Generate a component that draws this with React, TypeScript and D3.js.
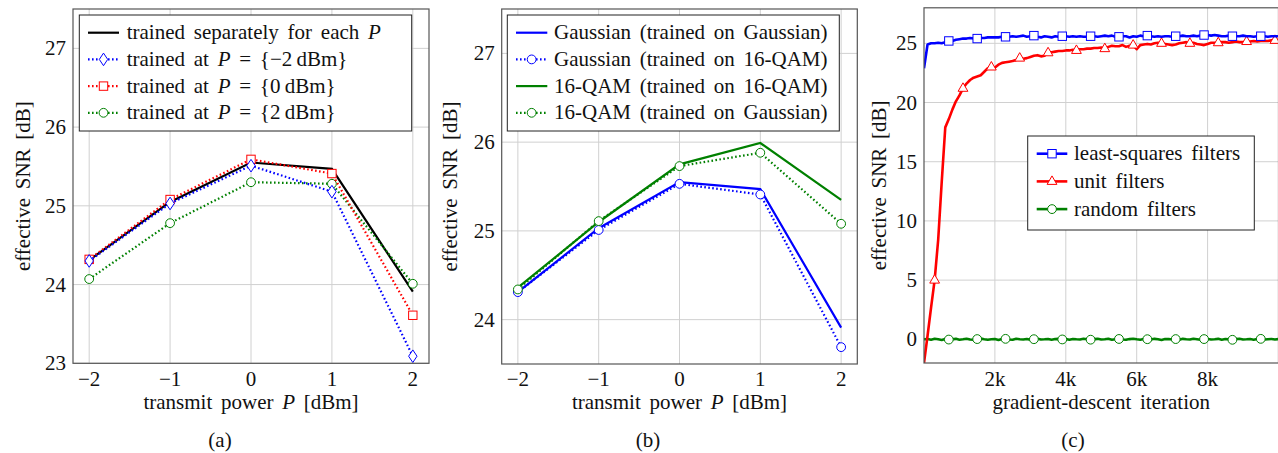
import React from 'react'
import * as d3 from 'd3'

// panel (a) and (b): transmit power sweep
const powers = [-2, -1, 0, 1, 2]
const snrSeparate = [24.31, 25.05, 25.55, 25.47, 23.91]
const snrAtMinus2 = [24.3, 25.03, 25.51, 25.18, 23.09]
const snrAt0 = [24.32, 25.08, 25.59, 25.41, 23.61]
const snrAt2 = [24.07, 24.78, 25.3, 25.28, 24.01]

const gaussOnGauss = [24.31, 25.03, 25.55, 25.47, 23.91]
const gaussOnQam = [24.31, 25.01, 25.53, 25.41, 23.69]
const qamOnQam = [24.36, 25.1, 25.75, 25.99, 25.35]
const qamOnGauss = [24.34, 25.11, 25.73, 25.88, 25.08]

// panel (c): one value every 100 iterations, 0 .. 10000
const lsFilters = [
  22.9, 24.9, 25.0, 25.0, 25.05, 25.0, 25.1, 25.2, 25.2, 25.3,
  25.35, 25.4, 25.4, 25.45, 25.4, 25.4, 25.45, 25.45, 25.5, 25.5,
  25.5, 25.5, 25.55, 25.55, 25.55, 25.6, 25.55, 25.6, 25.65, 25.55,
  25.6, 25.65, 25.55, 25.5, 25.6, 25.55, 25.5, 25.6, 25.55, 25.6,
  25.6, 25.55, 25.6, 25.55, 25.6, 25.55, 25.55, 25.6, 25.6, 25.55,
  25.6, 25.65, 25.6, 25.65, 25.55, 25.55, 25.6, 25.6, 25.5, 25.6,
  25.55, 25.65, 25.6, 25.65, 25.6, 25.55, 25.6, 25.55, 25.6, 25.6,
  25.55, 25.6, 25.6, 25.65, 25.6, 25.6, 25.65, 25.6, 25.65, 25.7,
  25.7, 25.65, 25.7, 25.65, 25.6, 25.6, 25.65, 25.6, 25.6, 25.6,
  25.65, 25.6, 25.6, 25.55, 25.6, 25.6, 25.6, 25.55, 25.6, 25.6,
  25.6,
]
const unitFilters = [
  -2, 0.3, 2.7, 5.0, 8.4, 13.3, 17.9, 18.6, 19.4, 20.1,
  20.6, 21.2, 21.6, 21.9, 22.1, 22.2, 22.3, 22.6, 22.9, 23.0,
  22.95, 23.2, 23.35, 23.4, 23.45, 23.5, 23.6, 23.75, 23.7, 23.75,
  23.85, 23.95, 24.0, 23.9, 23.95, 24.2, 24.25, 24.3, 24.35, 24.35,
  24.4, 24.4, 24.45, 24.4, 24.5, 24.5, 24.55, 24.55, 24.6, 24.6,
  24.65, 24.55, 24.7, 24.8, 24.75, 24.75, 24.85, 24.7, 24.8, 24.85,
  24.5, 24.85, 24.9, 24.95, 24.9, 25.0, 25.05, 25.0, 24.95, 24.9,
  24.85, 24.9, 25.0, 25.05, 25.1, 25.0, 25.05, 24.95, 24.9, 24.85,
  24.95, 25.05, 25.05, 25.05, 25.1, 25.1, 25.05, 25.1, 25.15, 25.1,
  25.1, 25.15, 25.15, 25.2, 25.15, 25.2, 25.2, 25.2, 25.25, 25.25,
  25.3,
]
const randomFilters = [
  0.0, 0.02, -0.03, 0.05, 0.0, -0.05, 0.03, -0.02, 0.01, 0.04,
  -0.03, 0.0, 0.05, -0.02, -0.04, 0.02, 0.06, 0.01, -0.03, 0.0,
  0.03, -0.05, 0.02, 0.04, -0.01, -0.03, 0.05, 0.0, -0.02, 0.03,
  -0.04, 0.01, 0.05, -0.02, 0.0, 0.03, -0.03, 0.02, 0.04, -0.01,
  0.02, -0.04, 0.03, 0.0, -0.02, 0.05, 0.01, -0.03, 0.02, 0.04,
  -0.02, 0.0, 0.05, -0.03, 0.01, 0.03, -0.02, -0.04, 0.02, 0.05,
  0.0, -0.03, 0.03, 0.01, -0.02, 0.04, 0.0, -0.05, 0.02, 0.03,
  -0.01, 0.02, -0.03, 0.04, 0.0, -0.02, 0.05, 0.01, -0.04, 0.02,
  0.03, -0.02, 0.0, 0.04, -0.03, 0.02, 0.01, -0.04, 0.03, 0.05,
  -0.01, 0.0, 0.03, -0.03, 0.02, 0.04, -0.02, 0.01, 0.03, -0.01,
  0.02,
]
const iterations = lsFilters.map((_, i) => i * 100)
const lsMarkIters = [700, 1500, 2300, 3100, 3900, 4700, 5500, 6300, 7100, 7900, 8700, 9500]
const unitMarkIters = [300, 1100, 1900, 2700, 3500, 4300, 5100, 5900, 6700, 7500, 8300, 9100, 9900]
const randomMarkIters = lsMarkIters

const iterTicks = [2000, 4000, 6000, 8000]
const iterTickLabels = ['2k', '4k', '6k', '8k']

const FONT = '"Liberation Serif", "Times New Roman", serif'
const FS = 21
const BLUE = '#0000ff'
const RED = '#ff0000'
const GREEN = '#008000'
const DOT = '1.6 2.4'

const Mark = ({shape, x, y, color}) => {
  if (shape === 'diamond')
    return <path d={`M${x},${y - 6.3} L${x + 4.2},${y} L${x},${y + 6.3} L${x - 4.2},${y} Z`} fill="white" stroke={color} strokeWidth={1} />
  if (shape === 'square')
    return <rect x={x - 4.2} y={y - 4.2} width={8.4} height={8.4} fill="white" stroke={color} strokeWidth={1} />
  if (shape === 'triangle')
    return <path d={`M${x},${y - 5.5} L${x + 4.9},${y + 3} L${x - 4.9},${y + 3} Z`} fill="white" stroke={color} strokeWidth={1} />
  return <circle cx={x} cy={y} r={4.4} fill="white" stroke={color} strokeWidth={1} />
}

const Frame = ({id, x, y, xTicks, yTicks, xFmt, yFmt, yLabelX, xLabel, caption, captionX, children}) => {
  const [x0, x1] = x.range()
  const [y1, y0] = y.range()
  return (
    <g>
      <defs>
        <clipPath id={id}><rect x={x0} y={y0} width={x1 - x0} height={y1 - y0} /></clipPath>
      </defs>
      {xTicks.map(t => <line key={'gx' + t} x1={x(t)} x2={x(t)} y1={y0} y2={y1} stroke="#d0d0d0" strokeWidth={1} />)}
      {yTicks.map(t => <line key={'gy' + t} x1={x0} x2={x1} y1={y(t)} y2={y(t)} stroke="#d0d0d0" strokeWidth={1} />)}
      <g clipPath={`url(#${id})`}>{children}</g>
      <rect x={x0} y={y0} width={x1 - x0} height={y1 - y0} fill="none" stroke="#555" strokeWidth={1.2} />
      <g fontFamily={FONT} fontSize={FS} fill="#111" wordSpacing={3.5}>
        {xTicks.map((t, i) => <text key={'tx' + t} x={x(t)} y={386} textAnchor="middle">{xFmt(t, i)}</text>)}
        {yTicks.map(t => <text key={'ty' + t} x={x0 - 7} y={y(t) + 7} textAnchor="end">{yFmt(t)}</text>)}
        <text transform={`translate(${yLabelX},${(y0 + y1) / 2}) rotate(-90)`} textAnchor="middle">effective SNR [dB]</text>
        <text x={(x0 + x1) / 2} y={409} textAnchor="middle">{xLabel}</text>
        <text x={captionX} y={447} textAnchor="middle">{caption}</text>
      </g>
    </g>
  )
}

const Legend = ({x, y, w, h, rows, sx0, sx1, tx, dy}) => (
  <g>
    <rect x={x} y={y} width={w} height={h} fill="white" stroke="#222" strokeWidth={1} />
    {rows.map((r, i) => {
      const ry = y + 17.7 + i * dy
      return (
        <g key={i}>
          <line x1={sx0} x2={sx1} y1={ry} y2={ry} stroke={r.color} strokeWidth={r.width || 2.2} strokeDasharray={r.dash || null} />
          {r.shape && <Mark shape={r.shape} x={(sx0 + sx1) / 2} y={ry} color={r.color} />}
          <text x={tx} y={ry + 6.5} fontFamily={FONT} fontSize={FS} fill="#111" wordSpacing={3.5}>{r.label}</text>
        </g>
      )
    })}
  </g>
)

const powerTick = (t) => (t < 0 ? '\u2212' + Math.abs(t) : String(t))
const xLabelPower = <>transmit power <tspan fontStyle="italic">P</tspan> [dBm]</>
const calP = (v) => <>trained at <tspan fontStyle="italic">P</tspan> = {'{'}{v}{'\u2009'}dBm{'}'}</>

export default function App() {
  const xa = d3.scaleLinear().domain([-2.2, 2.2]).range([73, 429])
  const ya = d3.scaleLinear().domain([23, 27.5]).range([363.3, 9])
  const xb = d3.scaleLinear().domain([-2.2, 2.2]).range([501.7, 857.3])
  const yb = d3.scaleLinear().domain([23.5, 27.5]).range([364, 9])
  const xc = d3.scaleLinear().domain([0, 10000]).range([924, 1278.5])
  const yc = d3.scaleLinear().domain([-2, 28]).range([363, 7.8])

  const lineA = d3.line<number>().x((_, i) => xa(powers[i])).y(d => ya(d))
  const lineB = d3.line<number>().x((_, i) => xb(powers[i])).y(d => yb(d))
  const lineC = d3.line<number>().x((_, i) => xc(iterations[i])).y(d => yc(d))

  const seriesA = [
    {v: snrSeparate, color: '#000', dash: null, shape: null},
    {v: snrAt2, color: GREEN, dash: DOT, shape: 'circle'},
    {v: snrAt0, color: RED, dash: DOT, shape: 'square'},
    {v: snrAtMinus2, color: BLUE, dash: DOT, shape: 'diamond'},
  ]
  const seriesB = [
    {v: gaussOnGauss, color: BLUE, dash: null, shape: null},
    {v: gaussOnQam, color: BLUE, dash: DOT, shape: 'circle'},
    {v: qamOnQam, color: GREEN, dash: null, shape: null},
    {v: qamOnGauss, color: GREEN, dash: DOT, shape: 'circle'},
  ]
  const seriesC = [
    {v: randomFilters, marks: randomMarkIters, color: GREEN, shape: 'circle'},
    {v: unitFilters, marks: unitMarkIters, color: RED, shape: 'triangle'},
    {v: lsFilters, marks: lsMarkIters, color: BLUE, shape: 'square'},
  ]

  return (
    <svg width={1278} height={453} style={{position: 'absolute', left: 0, top: 0, background: 'white'}}>
      <Frame id="clipA" x={xa} y={ya} xTicks={powers} yTicks={[23, 24, 25, 26, 27]} xFmt={powerTick} yFmt={String}
        yLabelX={30} xLabel={xLabelPower} caption="(a)" captionX={220}>
        {seriesA.map((s, k) => (
          <g key={k}>
            <path d={lineA(s.v)} fill="none" stroke={s.color} strokeWidth={2.2} strokeDasharray={s.dash} />
            {s.shape && s.v.map((d, i) => <Mark key={i} shape={s.shape} x={xa(powers[i])} y={ya(d)} color={s.color} />)}
          </g>
        ))}
      </Frame>
      <Legend x={79.3} y={15} w={332.4} h={116} sx0={88} sx1={119} tx={126.7} dy={26.7} rows={[
        {color: '#000', label: <>trained separately for each <tspan fontStyle="italic">P</tspan></>},
        {color: BLUE, dash: DOT, shape: 'diamond', label: calP('\u22122')},
        {color: RED, dash: DOT, shape: 'square', label: calP('0')},
        {color: GREEN, dash: DOT, shape: 'circle', label: calP('2')},
      ]} />

      <Frame id="clipB" x={xb} y={yb} xTicks={powers} yTicks={[24, 25, 26, 27]} xFmt={powerTick} yFmt={String}
        yLabelX={457} xLabel={xLabelPower} caption="(b)" captionX={648}>
        {seriesB.map((s, k) => (
          <g key={k}>
            <path d={lineB(s.v)} fill="none" stroke={s.color} strokeWidth={2.2} strokeDasharray={s.dash} />
            {s.shape && s.v.map((d, i) => <Mark key={i} shape={s.shape} x={xb(powers[i])} y={yb(d)} color={s.color} />)}
          </g>
        ))}
      </Frame>
      <Legend x={507.3} y={15} w={332} h={116} sx0={516} sx1={547.3} tx={554} dy={26.7} rows={[
        {color: BLUE, label: 'Gaussian (trained on Gaussian)'},
        {color: BLUE, dash: DOT, shape: 'circle', label: 'Gaussian (trained on 16-QAM)'},
        {color: GREEN, label: '16-QAM (trained on 16-QAM)'},
        {color: GREEN, dash: DOT, shape: 'circle', label: '16-QAM (trained on Gaussian)'},
      ]} />

      <Frame id="clipC" x={xc} y={yc} xTicks={iterTicks} yTicks={[0, 5, 10, 15, 20, 25]} xFmt={(t, i) => iterTickLabels[i]} yFmt={String}
        yLabelX={886} xLabel="gradient-descent iteration" caption="(c)" captionX={1073}>
        {seriesC.map((s, k) => (
          <g key={k}>
            <path d={lineC(s.v)} fill="none" stroke={s.color} strokeWidth={2.6} strokeLinejoin="round" />
            {s.marks.map(it => <Mark key={it} shape={s.shape} x={xc(it)} y={yc(s.v[iterations.indexOf(it)])} color={s.color} />)}
          </g>
        ))}
      </Frame>
      <Legend x={1027.7} y={136} w={226.6} h={94} sx0={1036.7} sx1={1067.3} tx={1074} dy={27.7} rows={[
        {color: BLUE, width: 2.6, shape: 'square', label: 'least-squares filters'},
        {color: RED, width: 2.6, shape: 'triangle', label: 'unit filters'},
        {color: GREEN, width: 2.6, shape: 'circle', label: 'random filters'},
      ]} />
    </svg>
  )
}
